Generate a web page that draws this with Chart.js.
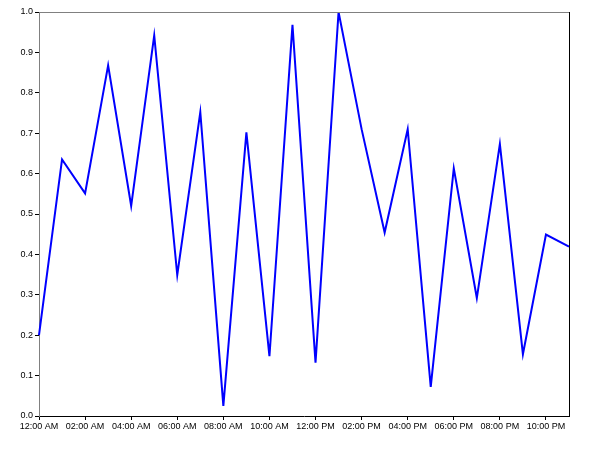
<!DOCTYPE html>
<html>
<head>
<meta charset="utf-8">
<script src="https://cdn.jsdelivr.net/npm/chart.js@4/dist/chart.umd.min.js"></script>
<style>
  html, body { margin: 0; padding: 0; background: #fff; }
  #wrap { width: 600px; height: 450px; }
</style>
</head>
<body>
<div id="wrap"><canvas id="lineChart"></canvas></div>
<script>
const hours = [
    "12:00 AM", "01:00 AM", "02:00 AM", "03:00 AM", "04:00 AM", "05:00 AM",
    "06:00 AM", "07:00 AM", "08:00 AM", "09:00 AM", "10:00 AM", "11:00 AM",
    "12:00 PM", "01:00 PM", "02:00 PM", "03:00 PM", "04:00 PM", "05:00 PM",
    "06:00 PM", "07:00 PM", "08:00 PM", "09:00 PM", "10:00 PM", "11:00 PM"
];
const values = [
    0.200, 0.635, 0.551, 0.868, 0.520, 0.942,
    0.349, 0.752, 0.025, 0.702, 0.148, 0.968,
    0.132, 1.000, 0.710, 0.454, 0.710, 0.072,
    0.613, 0.292, 0.673, 0.153, 0.449, 0.419
];
const yTicks = [0, 0.1, 0.2, 0.3, 0.4, 0.5, 0.6, 0.7, 0.8, 0.9, 1.0];

// top and right edges of the frame
const frame = {
    id: "frame",
    afterDraw(chart) {
        const { ctx, chartArea: a } = chart;
        ctx.save();
        ctx.lineWidth = 1;
        ctx.strokeStyle = "#808080";
        ctx.beginPath();
        ctx.moveTo(a.left, a.top + 0.5);
        ctx.lineTo(a.right, a.top + 0.5);
        ctx.stroke();
        ctx.strokeStyle = "#000";
        ctx.beginPath();
        ctx.moveTo(a.right + 0.5, a.top);
        ctx.lineTo(a.right + 0.5, a.bottom);
        ctx.stroke();
        ctx.restore();
    }
};

const ctx = document.getElementById("lineChart").getContext("2d");
new Chart(ctx, {
    type: "line",
    data: {
        labels: hours,
        datasets: [{
            data: values,
            borderColor: "#0000ff",
            borderWidth: 2,
            pointRadius: 0,
            tension: 0,
            fill: false
        }]
    },
    options: {
        responsive: true,
        maintainAspectRatio: false,
        animation: false,
        layout: { padding: { top: 12, right: 31, bottom: 0, left: 0 } },
        plugins: { legend: { display: false }, tooltip: { enabled: false } },
        scales: {
            x: {
                offset: false,
                afterFit: (s) => { s.height = 34; },
                border: { color: "#000", width: 1 },
                grid: { drawOnChartArea: false, tickLength: 4, color: "#000" },
                ticks: {
                    autoSkip: false,
                    maxRotation: 0,
                    padding: 1,
                    color: "#000",
                    font: { family: "Liberation Sans, Arial", size: 9 },
                    callback: (v, i) => (i % 2 === 0 ? hours[i] : null)
                }
            },
            y: {
                min: 0,
                max: 1,
                afterFit: (s) => { s.width = 39; },
                afterBuildTicks: (s) => { s.ticks = yTicks.map((v) => ({ value: v })); },
                border: { color: "#808080", width: 1 },
                grid: { drawOnChartArea: false, tickLength: 4, color: "#000" },
                ticks: {
                    padding: 2,
                    color: "#000",
                    font: { family: "Liberation Sans, Arial", size: 9 },
                    callback: (v) => v.toFixed(1)
                }
            }
        }
    },
    plugins: [frame]
});
</script>
</body>
</html>
